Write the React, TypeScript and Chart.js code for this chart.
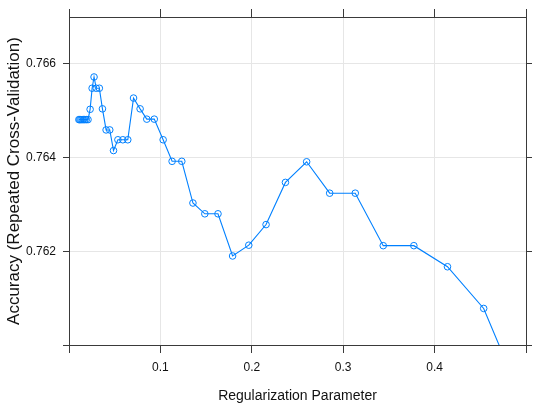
import React, { useEffect, useRef } from "react";
import { Chart, registerables } from "chart.js";

Chart.register(...registerables);

// Regularization parameter (lambda) values along the tuning path
const lambdaValues = [
  0.0108, 0.0118, 0.013, 0.0143, 0.0157, 0.0172, 0.0189, 0.0208,
  0.0231, 0.0253, 0.0274, 0.0298, 0.0332, 0.0366, 0.0406, 0.0446,
  0.0487, 0.0535, 0.0589, 0.0643, 0.0706, 0.0778, 0.0851, 0.0933,
  0.103, 0.1128, 0.1234, 0.1356, 0.1486, 0.163, 0.179, 0.1967,
  0.2156, 0.2368, 0.26, 0.2852, 0.3132, 0.3438, 0.3773, 0.4141,
  0.4537, 0.4985,
];

// Mean accuracy from repeated cross-validation at each lambda
const accuracyValues = [
  0.76481, 0.76481, 0.76481, 0.76481, 0.76481, 0.76481, 0.76481, 0.76481,
  0.76503, 0.76548, 0.76572, 0.76548, 0.76548, 0.76504, 0.76459, 0.76459,
  0.76415, 0.76438, 0.76438, 0.76438, 0.76527, 0.76504, 0.76482, 0.76482,
  0.76438, 0.76392, 0.76392, 0.76303, 0.7628, 0.7628, 0.7619, 0.76213,
  0.76257, 0.76347, 0.76391, 0.76324, 0.76324, 0.76212, 0.76212, 0.76167,
  0.76078, 0.7587,
];

const xTicks = [0, 0.1, 0.2, 0.3, 0.4, 0.5];
const xTickLabels = ["", "0.1", "0.2", "0.3", "0.4", ""];
const yTicks = [0.76, 0.762, 0.764, 0.766];
const yTickLabels = ["", "0.762", "0.764", "0.766"];

const X_MIN = 0;
const X_MAX = 0.5;
const Y_MIN = 0.76;
const Y_MAX = 0.767;

const FONT = "'Liberation Sans', Arial, Helvetica, sans-serif";
const FRAME = "#3a3a3a";
const GRID = "#e6e6e6";
const BLUE = "#0080ff";

export default function App() {
  const canvasRef = useRef<HTMLCanvasElement | null>(null);

  useEffect(() => {
    const canvas = canvasRef.current;
    if (!canvas) return;

    const points = lambdaValues.map((x, i) => ({ x, y: accuracyValues[i] }));

    const setX = (scale: any) => {
      scale.ticks = xTicks.map((value) => ({ value }));
    };
    const setY = (scale: any) => {
      scale.ticks = yTicks.map((value) => ({ value }));
    };

    const chart = new Chart(canvas, {
      type: "line",
      data: {
        datasets: [
          {
            data: points,
            borderColor: BLUE,
            borderWidth: 1.1,
            pointStyle: "circle",
            pointRadius: 3.3,
            pointBorderWidth: 1,
            pointBorderColor: BLUE,
            pointBackgroundColor: "rgba(0,0,0,0)",
            tension: 0,
            fill: false,
          },
        ],
      },
      options: {
        animation: false,
        responsive: false,
        devicePixelRatio: 1,
        layout: { padding: 0 },
        plugins: {
          legend: { display: false },
          tooltip: { enabled: false },
        },
        scales: {
          x: {
            type: "linear",
            position: "bottom",
            min: X_MIN,
            max: X_MAX,
            afterBuildTicks: setX,
            afterFit: (scale: any) => {
              scale.height = 62;
            },
            grid: {
              color: GRID,
              lineWidth: 1,
              tickColor: FRAME,
              tickLength: 8,
            },
            border: { color: FRAME, width: 1 },
            ticks: {
              autoSkip: false,
              maxRotation: 0,
              padding: 7,
              color: "#111",
              font: { family: FONT, size: 12 },
              callback: (_v: any, i: number) => xTickLabels[i],
            },
            title: {
              display: true,
              text: "Regularization Parameter",
              color: "#111",
              font: { family: FONT, size: 14 },
              padding: { top: 0, bottom: 2 },
            },
          },
          x2: {
            type: "linear",
            position: "top",
            min: X_MIN,
            max: X_MAX,
            afterBuildTicks: setX,
            afterFit: (scale: any) => {
              scale.height = 17;
            },
            grid: {
              drawOnChartArea: false,
              tickColor: FRAME,
              tickLength: 8,
            },
            border: { color: FRAME, width: 1 },
            ticks: { display: false },
          },
          y: {
            type: "linear",
            position: "left",
            min: Y_MIN,
            max: Y_MAX,
            afterBuildTicks: setY,
            afterFit: (scale: any) => {
              scale.width = 69;
            },
            grid: {
              color: GRID,
              lineWidth: 1,
              tickColor: FRAME,
              tickLength: 6,
            },
            border: { color: FRAME, width: 1 },
            ticks: {
              autoSkip: false,
              padding: 7,
              color: "#111",
              font: { family: FONT, size: 12 },
              callback: (_v: any, i: number) => yTickLabels[i],
            },
            title: {
              display: true,
              text: "Accuracy (Repeated Cross-Validation)",
              color: "#111",
              font: { family: FONT, size: 17 },
              padding: { top: 4, bottom: 0 },
            },
          },
          y2: {
            type: "linear",
            position: "right",
            min: Y_MIN,
            max: Y_MAX,
            afterBuildTicks: setY,
            afterFit: (scale: any) => {
              scale.width = 4;
            },
            grid: {
              drawOnChartArea: false,
              tickColor: FRAME,
              tickLength: 6,
            },
            border: { color: FRAME, width: 1 },
            ticks: { display: false },
          },
        },
      },
    });

    return () => chart.destroy();
  }, []);

  return (
    <div
      style={{
        position: "fixed",
        left: 0,
        top: 0,
        width: 533,
        height: 407,
        background: "#fff",
      }}
    >
      <canvas
        ref={canvasRef}
        width={533}
        height={407}
        style={{ display: "block", width: 533, height: 407 }}
      />
    </div>
  );
}
